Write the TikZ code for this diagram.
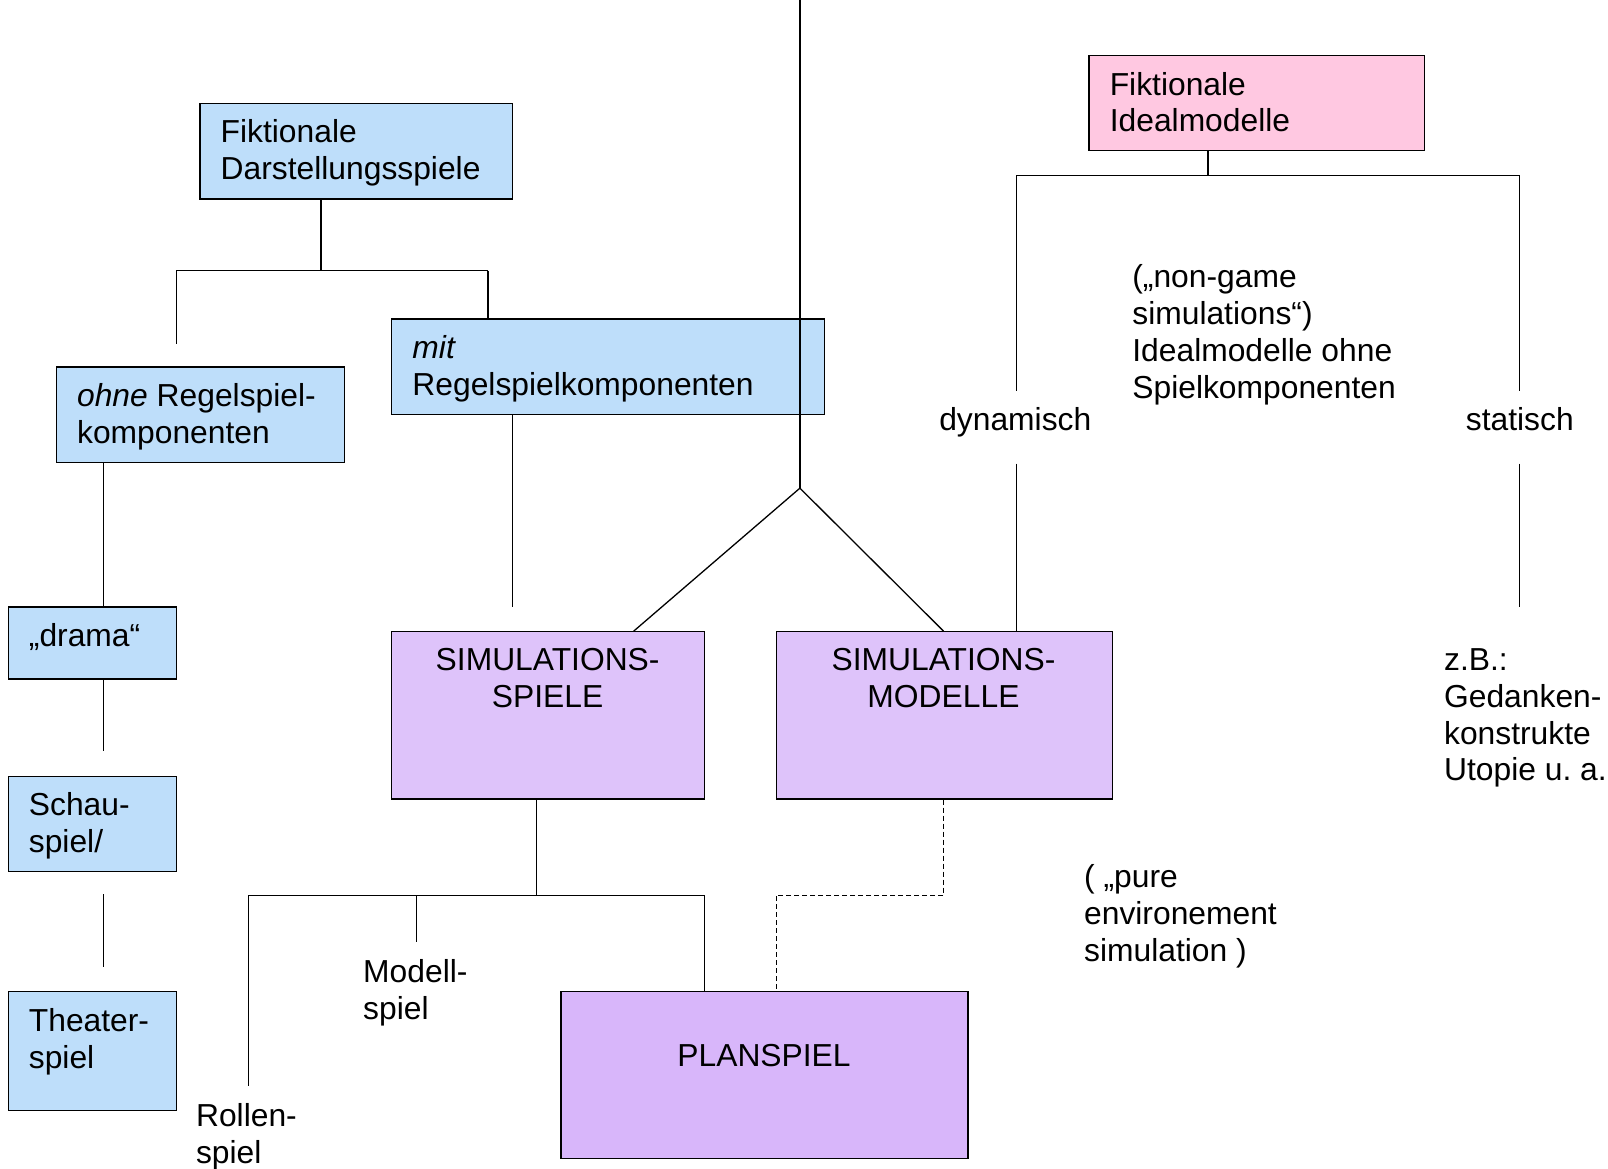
\documentclass[tikz,border=0pt]{standalone}
\usepackage{fontspec}
\setmainfont{Liberation Sans}
\usetikzlibrary{calc,fit}
\definecolor{bluefill}{RGB}{190,222,250}
\definecolor{pinkfill}{RGB}{255,200,225}
\definecolor{purplefill}{RGB}{222,195,250}
\definecolor{plfill}{RGB}{216,182,250}
\frenchspacing
\begin{document}
\begin{tikzpicture}[x=1.0255bp,y=-1.0255bp,
  box/.style={draw=black, line width=1.3bp, rectangle, inner sep=0pt},
  txt/.style={inner sep=0pt, anchor=north west, align=left, font=\fontsize{31.8bp}{36.9bp}\selectfont},
  ctxt/.style={txt, anchor=north, align=center},
  conn/.style={line width=1.3bp},
  dconn/.style={line width=1.3bp, dash pattern=on 5bp off 3bp}]
\useasboundingbox (0,0) rectangle (1568,1139);
\fill[white] (0,0) rectangle (1568,1139);

% boxes
\node[box, fill=bluefill, fit={(195,101) (500,194)}] (fds) {};
\node[box, fill=bluefill, fit={(55,358) (336,451)}] (ohne) {};
\node[box, fill=bluefill, fit={(382,311) (804,404)}] (mit) {};
\node[box, fill=bluefill, fit={(8,592) (172,662)}] (drama) {};
\node[box, fill=bluefill, fit={(8,757) (172,850)}] (schau) {};
\node[box, fill=bluefill, fit={(8,967) (172,1083)}] (theater) {};
\node[box, fill=purplefill, fit={(382,616) (687,779)}] (simsp) {};
\node[box, fill=purplefill, fit={(757,616) (1085,779)}] (simmo) {};
\node[box, fill=plfill, fit={(547,967) (944,1130)}] (plan) {};
\node[box, fill=pinkfill, fit={(1062,54) (1389,147)}] (ideal) {};

% texts
\node[txt] (tfds) at (215,116) {Fiktionale\\Darstellungsspiele};
\node[txt] (tohne) at (75,374) {\textit{ohne} Regelspiel-\\komponenten};
\node[txt] (tmit) at (402,327) {\textit{mit}\\Regelspielkomponenten};
\node[txt] (tdrama) at (28,608) {„drama“};
\node[txt] (tschau) at (28,773) {Schau-\\spiel/};
\node[txt] (ttheater) at (28,983) {Theater-\\spiel};
\node[ctxt] (tsimsp) at (534,632) {SIMULATIONS-\\SPIELE};
\node[ctxt] (tsimmo) at (920,632) {SIMULATIONS-\\MODELLE};
\node[ctxt] (tplan) at (745,1018) {PLANSPIEL};
\node[txt] (tmodell) at (354,935) {Modell-\\spiel};
\node[txt] (trollen) at (191,1076) {Rollen-\\spiel};
\node[txt] (tideal) at (1082,70) {Fiktionale\\Idealmodelle};
\node[ctxt] (dyn) at (990,397) {dynamisch};
\node[ctxt] (stat) at (1482,397) {statisch};
\node[txt] (tnongame) at (1104,258) {(„non-game\\simulations“)\\Idealmodelle ohne\\Spielkomponenten};
\node[txt] (tzb) at (1408,632) {z.B.:\\Gedanken-\\konstrukte\\Utopie u. a.};
\node[txt] (tpure) at (1057,843) {( „pure\\environement\\simulation )};

% connectors left tree
\coordinate (j1) at (313,264);
\coordinate (jL) at (172,264);
\coordinate (jR) at (476,264);
\coordinate (eL) at (172,335);
\draw[conn] (fds.south -| j1) -- (j1);
\draw[conn] (jL) -- (jR);
\draw[conn] (jL) -- (eL);
\draw[conn] (jR) -- (jR |- mit.north);
\coordinate (e2) at (500,592);
\draw[conn] (e2 |- mit.south) -- (e2);
\coordinate (cL) at (101,732);
\draw[conn] (ohne.south -| cL) -- (drama.north -| cL);
\draw[conn] (drama.south -| cL) -- (cL);
\coordinate (cLa) at (101,872);
\coordinate (cLb) at (101,943);
\draw[conn] (cLa) -- (cLb);

% central
\coordinate (top) at (780,-3);
\coordinate (jc) at (780,476);
\coordinate (ss) at (618,616);
\coordinate (sm) at (920,616);
\draw[conn] (top) -- (jc);
\draw[conn] (jc) -- (simsp.north -| ss);
\draw[conn] (jc) -- (simmo.north -| sm);

% lower tree
\coordinate (b1) at (523,873);
\coordinate (hl) at (242,873);
\coordinate (hr) at (687,873);
\coordinate (hm) at (406,873);
\coordinate (rol) at (242,1059);
\coordinate (mod) at (406,919);
\draw[conn] (simsp.south -| b1) -- (b1);
\draw[conn] (hl) -- (hr);
\draw[conn] (hl) -- (rol);
\draw[conn] (hm) -- (mod);
\draw[conn] (hr) -- (plan.north -| hr);
\coordinate (d1) at (920,873);
\coordinate (d2) at (757,873);
\draw[dconn] (simmo.south -| d1) -- (d1) -- (d2) -- (plan.north -| d2);

% right tree
\coordinate (i1) at (1178,171);
\coordinate (iL) at (991,171);
\coordinate (iR) at (1482,171);
\coordinate (iLe) at (991,381);
\coordinate (iRe) at (1482,381);
\draw[conn] (ideal.south -| i1) -- (i1);
\draw[conn] (iL) -- (iR);
\draw[conn] (iL) -- (iLe);
\draw[conn] (iR) -- (iRe);
\coordinate (dL) at (991,452);
\draw[conn] (dL) -- (simmo.north -| dL);
\coordinate (sR1) at (1482,452);
\coordinate (sR2) at (1482,592);
\draw[conn] (sR1) -- (sR2);
\end{tikzpicture}
\end{document}
